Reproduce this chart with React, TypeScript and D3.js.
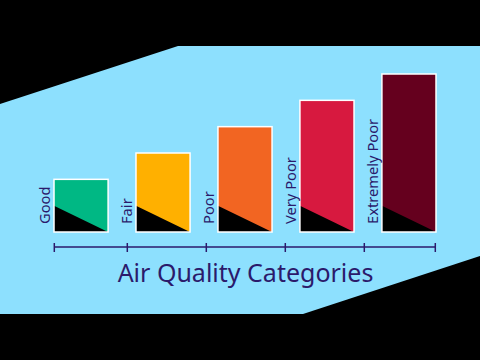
import React from "react";
import * as d3 from "d3";

const categories = ["Good", "Fair", "Poor", "Very Poor", "Extremely Poor"];
const values = [2, 3, 4, 5, 6];
const colors = ["#00b884", "#ffb000", "#f26522", "#d7193f", "#65001e"];
const axisTicks = [0, 73, 152, 231, 310, 381];
const title = "Air Quality Categories";

export default function App() {
  const W = 480, H = 360;
  const x = d3.scaleBand<string>().domain(categories).range([54, 436]).paddingInner(0.34).paddingOuter(0);
  const y = d3.scaleLinear().domain([0, 6]).range([232, 74]);
  const ax = d3.scaleLinear().domain([0, 381]).range([54.3, 435.3]);
  const bg = "M0,104 L178,46 L480,46 L480,256 L303,314 L0,314 Z";
  const textColor = "#2b1a6b";
  const font = "'Noto Sans', sans-serif";
  return (
    <svg width={W} height={H} style={{ position: "absolute", left: 0, top: 0, background: "#000" }}>
      <rect width={W} height={H} fill="#000" />
      <path d={bg} fill="#8de0fe" />
      {categories.map((c, i) => {
        const x0 = x(c)!;
        const bw = x.bandwidth();
        const y0 = y(values[i]);
        const yb = y(0);
        const yt = y(1);
        return (
          <g key={c}>
            <rect x={x0} y={y0} width={bw} height={yb - y0} fill={colors[i]} />
            <path d={`M${x0},${yt} L${x0},${yb} L${x0 + bw},${yb} Z`} fill="#000" />
            <rect x={x0} y={y0} width={bw} height={yb - y0} fill="none" stroke="#fff" strokeWidth={1.5} />
            <text
              transform={`translate(${x0 - 4},${yb - 8}) rotate(-90)`}
              fill={textColor}
              fontFamily={font}
              fontSize={14.7}
            >
              {c}
            </text>
          </g>
        );
      })}
      <line x1={ax(0)} x2={ax(381)} y1={247} y2={247} stroke={textColor} strokeWidth={1.5} />
      {axisTicks.map((t) => (
        <line key={t} x1={ax(t)} x2={ax(t)} y1={243} y2={252} stroke={textColor} strokeWidth={1.5} />
      ))}
      <text x={245.5} y={281.5} textAnchor="middle" fill={textColor} fontFamily={font} fontSize={25}>
        {title}
      </text>
    </svg>
  );
}
